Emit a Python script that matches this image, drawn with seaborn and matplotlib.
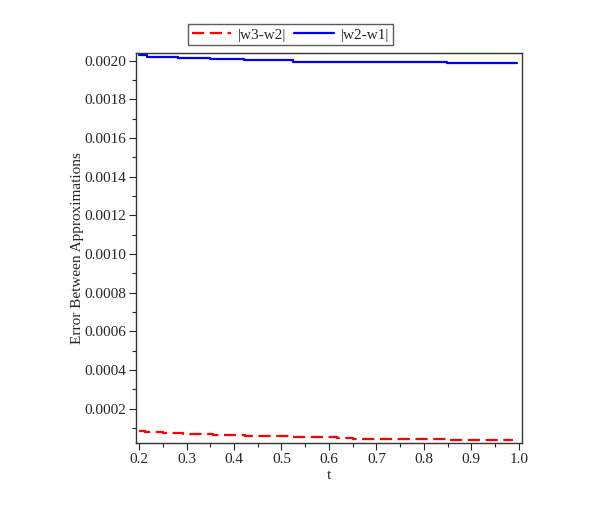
import numpy as np
import pandas as pd
import matplotlib
matplotlib.use('Agg')
import matplotlib.pyplot as plt
import seaborn as sns
from matplotlib.ticker import MultipleLocator, FormatStrFormatter

# values (step-like curves)
t_w21 = [0.200, 0.217, 0.283, 0.350, 0.420, 0.524, 0.848, 0.996]
err_w21 = [0.002027, 0.002019, 0.002014, 0.002007, 0.0020015, 0.001995, 0.001988, 0.001988]

t_w32 = [0.200, 0.213, 0.250, 0.292, 0.356, 0.423, 0.522, 0.617, 0.650, 0.848, 0.987]
err_w32 = [0.000086, 0.000079, 0.000074, 0.000069, 0.000064, 0.000060, 0.000055,
           0.000048, 0.000043, 0.000036, 0.000036]

labels = ['|w3-w2|', '|w2-w1|']


def main():
    sns.set_style('ticks')
    plt.rcParams['font.family'] = ['Liberation Serif', 'DejaVu Serif']

    df = pd.concat([
        pd.DataFrame({'t': t_w32, 'err': err_w32, 'curve': labels[0]}),
        pd.DataFrame({'t': t_w21, 'err': err_w21, 'curve': labels[1]}),
    ])

    fig = plt.figure(figsize=(5.97, 5.07), dpi=100)
    ax = fig.add_axes([0.228, 0.126, 0.646, 0.7695])

    sns.lineplot(
        data=df, x='t', y='err', hue='curve', style='curve',
        palette={labels[0]: '#ff0000', labels[1]: '#0000ff'},
        dashes={labels[0]: (5.5, 2.5), labels[1]: ''},
        drawstyle='steps-post', linewidth=1.6, estimator=None,
        sort=False, ax=ax
    )

    ax.set_xlim(0.1937, 1.0063)
    ax.set_ylim(0.000022, 0.00204)
    ax.xaxis.set_major_locator(MultipleLocator(0.1))
    ax.xaxis.set_minor_locator(MultipleLocator(0.05))
    ax.yaxis.set_major_locator(MultipleLocator(0.0002))
    ax.yaxis.set_minor_locator(MultipleLocator(0.0001))
    ax.xaxis.set_major_formatter(FormatStrFormatter('%.1f'))
    ax.yaxis.set_major_formatter(FormatStrFormatter('%.4f'))
    ax.tick_params(axis='both', which='major', length=5, width=0.8,
                   labelsize=11, direction='out', pad=2)
    ax.tick_params(axis='both', which='minor', length=3, width=0.8, direction='out')
    for side in ax.spines.values():
        side.set_color('#333333')
        side.set_linewidth(1.0)

    ax.set_xlabel('t', fontsize=11, labelpad=2)
    ax.set_ylabel('Error Between Approximations', fontsize=11, labelpad=0.5)

    handles, _ = ax.get_legend_handles_labels()
    leg = ax.legend(
        handles, labels, ncol=2, loc='lower center',
        bbox_to_anchor=(0.40, 1.0), frameon=True, fancybox=False,
        fontsize=11, handlelength=2.6, handletextpad=0.45, columnspacing=0.5,
        borderpad=0.25, borderaxespad=0.5
    )
    leg.get_frame().set_edgecolor('#333333')
    leg.get_frame().set_linewidth(1.0)

    fig.savefig('out.png', dpi=100)


if __name__ == '__main__':
    main()
